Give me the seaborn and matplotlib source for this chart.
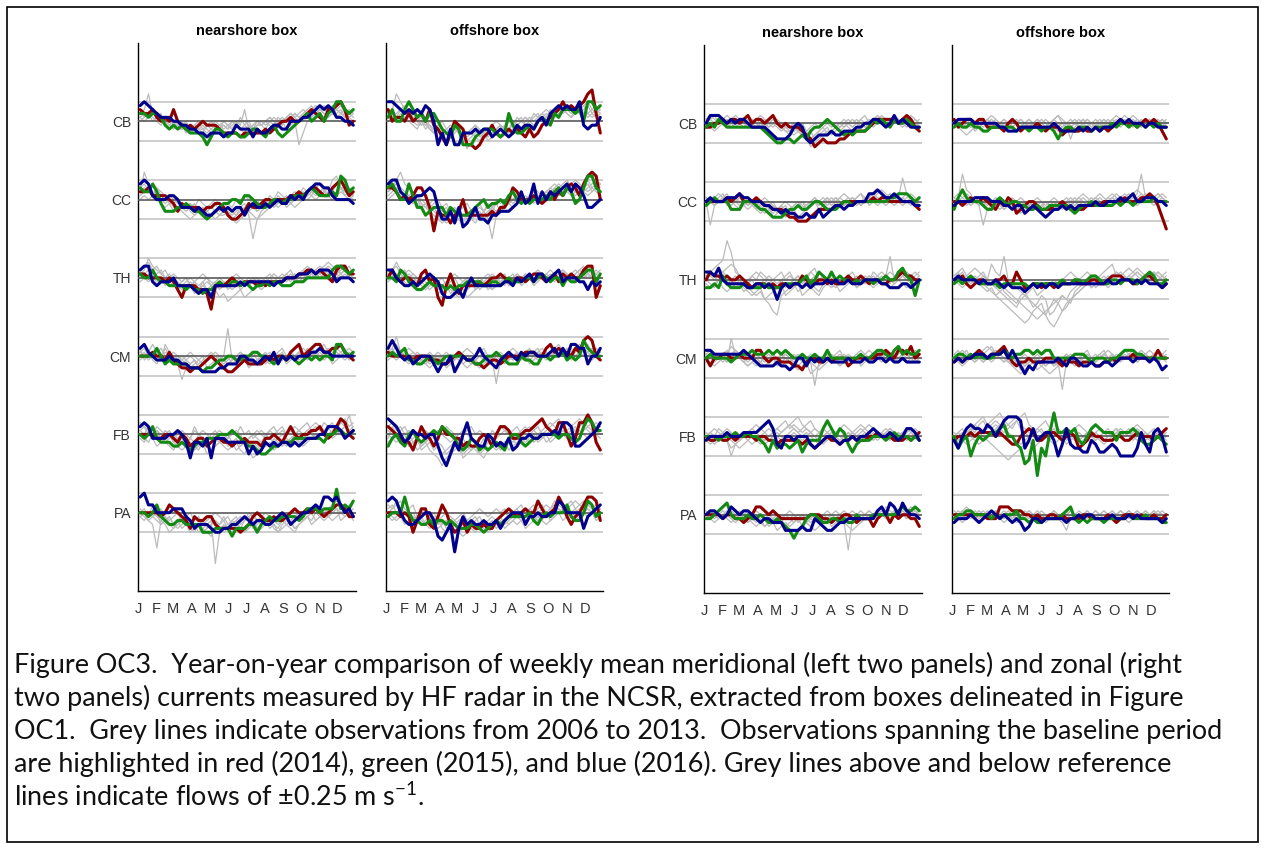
import numpy as np
import pandas as pd
import matplotlib
matplotlib.use("Agg")
import matplotlib.pyplot as plt
from matplotlib.patches import Rectangle
import seaborn as sns

# ---------------------------------------------------------------------------
# Sites (top to bottom), months, years
# ---------------------------------------------------------------------------
SITES = ["CB", "CC", "TH", "CM", "FB", "PA"]
SITE_OFFSET = {"CB": 6, "CC": 5, "TH": 4, "CM": 3, "FB": 2, "PA": 1}
MONTH_LABELS = ["J", "F", "M", "A", "M", "J", "J", "A", "S", "O", "N", "D"]
MONTH_START = [0, 31, 59, 90, 120, 151, 181, 212, 243, 273, 304, 334]
YEARS = ["2014", "2015", "2016"]
YEAR_COLORS = {"2014": "#8c0000", "2015": "#138a13", "2016": "#00008c"}
PANEL_TITLES = ["nearshore box", "offshore box", "nearshore box", "offshore box"]
REF_FLOW = 0.25

# Weekly mean currents, one letter per week (52 weeks):
# 'P' = 0 m/s, each letter step = 0.05 m/s  (A = -0.75 ... Z = +0.50)

# --- meridional, nearshore box ---
V_NEAR_2014 = {
    "CB": "SRRSQPQPSPONONOPOOONMMMMLMMMMMNMNOPPQPPQRSRQPSSTUSOP",
    "CC": "RRSQQQQPOMONNNNMNNOONLKKLMONNOPPOPPPQQRQRSSRQQSTUSQR",
    "TH": "QQPPPPOPOMKNNNMMLHNNNOPONOOONONOOOOPPPQQRRQRQPORSSQQ",
    "CM": "PPPQPPOQONMMLMMNOPONMLLMNONNNNOPOPPOQRSPQRSSQQRRSQPO",
    "FB": "PPPPOOPPONPOMNOOMNOONNMNNONNNMOOPONPRPOPPQQRPOPRTSPO",
    "PA": "PPPPPOPRQPONLONNOOMLLLLLKLMOPONNONNOPQPPQPQPOPQRRQOO",
}
V_NEAR_2015 = {
    "CB": "RRQRRQONONONMMMLJLNNMLMMLLMNNMLNOMLMNOPQRPQRPRSUUSRS",
    "CC": "SRRTROMMMNNONMMLKLMNOOPPOQQPONNOPPOPPQQQRSRQQQRQVURS",
    "TH": "QPPRPOONNNNMNMMLMMNONNOONONMNNONOONNNOOOPPPPPPRSSRQR",
    "CM": "PPPPRPNONNNNMMMLMMNOOPPOOPPQQPPONOPOPONOPOPOPPOSSQPQ",
    "FB": "POPRONNNMMNMLMNNOOOPPPQPONMMLKKLMMNNNOOOOOOONPPQQPPQ",
    "PA": "PPOPRONMMNNMMMMKKKLLLLJLLLMMKMNONNOOOONOQQQPQQQVQRQS",
}
V_NEAR_2016 = {
    "CB": "TUTSRQQQPPOONNMMLMMMLMMONNNLNMMNOONNPPPQQRSTSTSQQPPO",
    "CC": "TUTQPPPQQPNNNMNMLLMNMNMNNLNONNONOPOOQPQPRSTTSSQPPPPO",
    "TH": "RSSONOOOPNNNNMLMMKNNNNNNONOOOOOONOOPPPQQQRQRRRQOPPPO",
    "CM": "RSQPOOOPOONNMMMLLLLMMNNNPPOONOPOQNPOPOPPPQQRQQPPPPPP",
    "FB": "RSROOOOPPQPNJNNMOJOOONNNNNKMKLNMNMNNMNMNOOOPPRRRQOPQ",
    "PA": "TURRPPPPQQQONLMMMLKKLLMMNONMNNMMNOPOMNOPPQRQTTSTRPQO",
}
V_NEAR_PAST = {
    "CB": ["RSWRQPPQOPOPNOPNOOPONOPONOPNOPOPQPOQRQRSRSTSRQRSRQQR",
           "QRQSRQPOPONONMNONMNOONPOQONOPOPQPOPQPRQRSTRSSRTSRSRQ",
           "SQRPQROPPNOMNONMOPNOPONPOSNOPONPOQPNOPJMPQRSRQRSTRSR",
           "PQRQPOQPONNOMNOPONMNONOPNMONPOPONPQPQRQPQRSRQSRQRSQP",
           "QPQRQQPONOPNOONNMNONPONOPPONOOPQPPOQRQPQRQRSTSRRSQRS"],
    "CC": ["RWTRQPQOONNMNOMLMNMLMNMLNOMNMNOPNOPQOPQRQRSRQRUVSRQP",
           "QRSQRPOPNMNOMLMLKLMLLMKLMNLFKMNOPOPNOPQPQRQRSQRQSRSQ",
           "STRQSQPQPONNOMNMMNOMNMLMNMNOMNOPOQPOPQPQRSRQRSRTSQRS",
           "PQPQPONOMNMLKLMNMLKLMLKJKLMLKLMNONOPONOPPQPQRQPQRQPQ",
           "RSRTSRQPOPONONPONOPONONPOQPOPNOQPRQPQRQSRQSTRSQRSSRQ"],
    "TH": ["QRUSRQPOPONOPONOMNOMNONOPONOPNOPOPQPOQPQRQRSRQRQRSQP",
           "PQRQPOPNOMNMNLMNMLMKLJKLMKLMNMNONOPOPQPOPQPQRSRQPQPO",
           "RSTRSQRPQPOPNOPQPONONOPQPOPOPOPQPOPQRPQRSRQRSTSRQRQR",
           "OPQPOPNOPNMNONMOPNMNOMNOMNOPOPOPQPOPQPOPQPQPQRQPQPQP",
           "QPOPQRPQONOPNOMNONOPONMNONOPNOPONOPQPOPQPQRQPQRSQRSQ"],
    "CM": ["QRPQPOSQPONOPONOPQPOPWOPQPONOPOPQPOPQPQPQRQPQRQPQRPQ",
           "PQOPQRPOPNJMNOMNOPNONOPONOPQOPONOPQOPOPQPQPOPQRQPOPQ",
           "ROPQRPQPOPONMNOPMNOPOPNOPOPNOPQOPNOPQPOPRQPQPQPRQPQP",
           "OPQONPOQPOPONOMNOPONMNOPNOMNOPNOPOPNOPQPOPQPOPNOPQOP",
           "QPQSQPRPQPOPQPONOPQPONOPQPOPQPPQPQRPQPQRQPQRSQRQPQRQ"],
    "FB": ["QRPOQPNOPONMONPOMNONOPNOMNOPONPONOPONPQPQPOPQRSPQRUQ",
           "PONPQONMLNOMNLMNKLMNMLMNLKMNMLNMONMNOPNOPQOPQPOPQRPO",
           "SRQPRQPQOPQPORPQPOPQPOQPRPQOPQPQRPQPQRQPQRSRQPQRSTRS",
           "ONPOMNOPNMLMNMLNMLMNOMNLMNLJKLMNLMNMNONMNOPONOPQPOPO",
           "QPRQPOQPNOPNOQPONPQONOPQPNOPQPOQPQRPQPQRSQRQSRPQSRQR"],
    "PA": ["PQOPONMKLNOMNLMNLMNMOMNOMNOPNMNONMNONOPNOPQPOQRQPQPQ",
           "ONPOPMNOMNLMKLMKLMNLKLMNLKLMKLMNLKMNMLMNONPOPOPQPOPO",
           "QPORPQONOPNOPNOMNOPONOMNONPONOPONOPOPQPOPQRQPQRSRQRS",
           "PONMGNOMLMNMLKMLKJLMNLKMLNOLMNMNMLNMLKMNOMNONOPQNOPN",
           "OPNONMNOMLMNLMKLMNCKMLNMLKMNLMNLMKLMNLMNOPNOPONOPQOP"],
}

# --- meridional, offshore box ---
V_OFF_2014 = {
    "CB": "SPQQPRPQRPSONLJMPONJJIJLMOMLMNMNMLNLMOPQRSUSTSTUWXRM",
    "CC": "SSRPQPQSSQNHMLLJLMPLLLLLLMLNNPSRPPPQPOPRPRQSTSQTVWVP",
    "TH": "PRPOPPONQROPKINQNLNNNNONOPPQPOOPPOPQQPOPQOQPQPPRSSKN",
    "CM": "QPPPPPOPPPOOONNOPQPOONNMNOONOPPPPQQQPPRSQRQQPRQTUTPO",
    "FB": "RQPONNLORPOMORPPOOMNMMOPOMPRRQOOPQQRSTRQPSSPMOSSUSNL",
    "PA": "PPPOPOKNQQMLORPMKLNKMLLMLLNOPQPOPQPPSQOPQTROMOPRTTSN",
}
V_OFF_2015 = {
    "CB": "QSPPSUSQRPRRPNMLONJJJLMNNNMLMROMMNONPQPORQSSSRSPUUST",
    "CC": "STRPPTQNNLMNNNLNMLLLMNOPNOOPOQRPOPOPPPQPRSQSROPSVVSR",
    "TH": "PPORQONMMNONNNMNMNNOOOONNOONOPOOOPPOPQPOPPNPOOPQRROQ",
    "CM": "PQPQROONNOPONOPPPPPOONNOPPQPONNNPOONNPPOPPQOPOPTRQPP",
    "FB": "MOPNMPQONOPQPRQPOMLMONLMLMNMLOPPNMNOOPPPPOPPONORTSQQ",
    "PA": "OPPPTPNNMMNMNNMNMLLLMMLKLMNMNOOOOOPNMOPOPPPRONNPSROP",
}
V_OFF_2016 = {
    "CB": "UUTSRSRSRTSPJMJNJJMMMNMNNLMNMLMONOONPQORSTSTSSUONOOQ",
    "CC": "TUURQOPQQRSRNKKMJNIJLNKKJLLMMMNOROPTORPRQRSTRTSQNNOP",
    "TH": "RRPONNONOPQPOLKKLMKNPNNNNNNNOONPOPQOQQOPQROPPPOOMONO",
    "CM": "RTRPOPNOPPPNLNNPLNPOOPRPONMOPQPOQPQQPPPQRPRPSSRRNPPR",
    "FB": "TSRPNOQPPOPPMJHKNLPSONMMPOMNMOLMOOPOOPPPQPSSRMMNOPQS",
    "PA": "STSPNMMNOPPNJIKMFLOMNMMNMMNLNOPPPMOOPOOPPSRPPPPLOPQR",
}
V_OFF_PAST = {
    "CB": ["QSWUSQRPQOPONMNONMLKLMNMLMNONMNOPONOPQPRQRSRQSRQRSRQ",
           "RQRSTRQPOPNMONMLKJLMNOLMKLMNOMNOPQPOPQRQRSTSRSTRQRSR",
           "PQPRQPONPONMNLMNOMLIKLMNMLNOMNOPQOPQRPQSRQSTSRSTUSTS",
           "QRPQRSQPOPONOPNMNONMNONMNOPONPOQPQPRQRSRQRSRQRSTRQRS",
           "SRQSRQPOPNOMNLKLMNMLMLKMNMNOMNPONPQPQRQRSTRSTSRSTRQR"],
    "CC": ["RSUWTSRQPONMLKLMNMLKLMKLMNOMNOPQOPQRPQRSRSTUSRSTUSRQ",
           "QRSRQPOPNOMLKJKLJKIJKLMKLNMNOPOPQPQRQPQRSTSRQRSRQRST",
           "STRQPQRPONOPNMNLMNOMLMNMONPOPQPQRPQSRQRSTSRSTUTSRSTS",
           "PQRQPOPQONMNLKJKLMKJKJLMKFLMNONOPQPOPQRQRQRSRQRSTRSR",
           "RSTSRQPONONOPNOMLMNOMNOMNMOPNOPQPOQRPQRQSRSTSRQRSTUT"],
    "TH": ["QRSQPQPOPONOMNONMLKNOMNONMNOPOPQPOPQPQPQPQRQPQRQPQRQ",
           "PQOPQRQPONMNOMNLMNMKLMNOMNONOPOPOQPOPQPOPQPQPOPQRQPQ",
           "RQPQRPONOPQPONOPQPOPONOPQPOPQOPQPOPQRQPOPQRQPQRSQPQR",
           "OPQPONOPNMNOLMNMLKLMNOMNOMNOPNOPNOPNOPQPOPQPOPQPQPOP",
           "QRTRQPQPOPONOPNOPNOPNOPOPQPONPQOPQPOQPQRQRQPQRQPQRQP"],
    "CM": ["QRPQPOPQPONOPONOPQPOPONOPOIOPOPQPOPQRPQPQRQPQRSQPQRQ",
           "PQSQPOPNOPOPNOMNOPNONOPQOPQPOPOPQPQPOPQPPQPQRPQPQRQP",
           "RPOPQRQPONOPQPNOPONMNOPONOPONOPQOPNOPQPOQPQROPQRQPQR",
           "OPQPONOPONMNOPONMNOPONMNOPNOPQOPQPOPQPOPQRPQPQRQPOPQ",
           "QRUQRPQPOPQPOPQPOPQRQPQRPOPQPQRQPQRPQRQPRSQRQPQRSQRQ"],
    "FB": ["RSQRPQPOPNOPQPONOPQPONOPONOPQPOPQRPQRPQRSTRQRSTSRQRS",
           "PONOPMNOLMNLMKLMNLKLMLKLNMLMNLMNONOPNOPQPQPOPQPRQPQP",
           "QPONMNOPMNLKJHJKLMJKLMKJLMNLMNOMNOPNOPNOPQRPQRPQRSQR",
           "ORPQRPNOPQPOQPRQPOPQRPQPOQPRQPQRPQRQPQRSRQRSRQRSTRSR",
           "NOPNOMNLMNOMNMKLMNOMLNMOLMNMNONOPONOPOPNOPQPOPQPOQPO"],
    "PA": ["QRPQPOPNOMNOMNLMNMOLMNOMNONOPOPQOPQPQRPQRQPQRSRQRQPQ",
           "PQRSQPONOPMNOMNLMKLMNMLKMNLMNMNONOPONOPNOPQPOPQRQPQP",
           "ONOPNMNONMLMNLKLMKJKLKMLKLMNLMNMNLMNONMNOPNOPNOPOPNO",
           "RQSQPQROPQOPNOPONOPNOPQPOPQPQOPQRPQRPQRQSRQRSQRSRQRQ",
           "PONOMNONMNOMLMNLMNOMNOMNMLNOMNOPONOPONPOPQPOPQOPQPOP"],
}

# --- zonal, nearshore box ---
U_NEAR_2014 = {
    "CB": "OOPPQPQQPQRPQQPQRPOPOOONMLJKLKKKLLMNNNNOPQQQQQPQRQON",
    "CC": "PPPPPQPQRPPPQPOONNNMLLKKKLMNNNNOOPPPPPPPQPQQPPPPPPON",
    "TH": "PRQQPQPPQPONOOONONOONOOQPOOPPOPOOPQPPQPOPPOOPPQRQQPP",
    "CM": "PNPPQQPPQPPPRRPOPPOOONNMOPPOOPOPPPNOPPPPPQQRQPRRQSPQ",
    "FB": "POOPOOPOPPPPOPPOONOOOOONONMNOPOONOOPOOOPPQPPPOOOPOPQ",
    "PA": "PPPPOPPOONOPRRQPQPOOOOOOOPPPOONOOPPONOOOMOPPNPOPPOOM",
}
U_NEAR_2015 = {
    "CB": "OPOQPOOOOOOOOONMLKKLLKLMLNOOPQPONMNMNNNOQPQPOQPPQPOO",
    "CC": "OPQPPPNNNPPPONNMLLLMNNONNOPPONNNOPPOPPPPPPPPQQRRRQPQ",
    "TH": "NNONQONNNONNNNONNNNOOOOPQOPRQPRPQPPOPOPPOPPQPPRSQPLP",
    "CM": "PQPPPPOPQQQRQQQRQRQRQPPQPPQPPRPPPPPPPQPPQRRQPRSQRQQR",
    "FB": "PPPOPPPQPPQPPONLOMNNMNOLNOOORTRPRQNLNOOOPPPOPQPPPOPO",
    "PA": "OOPQRSPOOOPOOPONNONMLJLMOPPONNOONONNPOOOPPPPPPQRQQRQ",
}
U_NEAR_2016 = {
    "CB": "PRRRQPQPQQPOOOONMLLLMOPOLKLMMMNMMNNNOOPPQQPOPRPQPOOO",
    "CC": "PQPPPQQQRQQPPPOONNMNMMLLMLLNLMNOONOOPPPRRSRQQRQPPPOO",
    "TH": "RRQSPOOOOONNOONONKNONOONONOOOPOPOOPOOOPPPPOONNNOONOP",
    "CM": "RRQQQQQQQRQPONNNNONNMNPPNPOPOPOOOOPOOOPOOPPOPOOPOOOO",
    "FB": "OPPPPQPPPQQQQRSTRNMPPOPPPNMNOPPONOOPOPPQRQPPQPOPRRQO",
    "PA": "PQQPOPRQPQQPONOONNNLLLLMLLONMLLMNNOOOOOOOQRPSRPSQPPO",
}
U_NEAR_PAST = {
    "CB": ["PQPQPOPQPOPQPOPOPQPOOPNMNLMNOPOPOPQPQPOPQPQPOPQPQPOP",
           "QRQPQRQPQPQPQRQPOPONNONMLJKLMNNOPOPQPOPQPQRQPQPQRQPQ",
           "OPOPQPOPQPOPQPOPQPONMNOPMLMNOMNONOPOPQPOPQPOPQPOPQPO",
           "PQRPQPQRQPQPOPQPQPOPONOPNOPOPQPOPQPOPQRPQRQPQRQPQRQP",
           "PONOPQPOPOPQPOPOPONONMNOMNLMNOMNOPONOPOPOPQPOPQPOPQP"],
    "CC": ["PJOPQPQPOPOPNOPNMNOMNOPONOPOPQPQPOPQPOPQPQPQRPQVRQPQ",
           "QPQRQPOPQPOPONMNOMNLMNOPNOPOPQOPQPOPQRPQRQPQRQPQRQPO",
           "OPOPQOPONOPONMNOLMNOMNLMNOPNOPOPOPQPOPQOPQPOPQPOPQPO",
           "PQPQRPQPQPQPOPQPONOPONOPOPQPQPQPQRQPQRQPQRSRQRQPQRQP",
           "QPOPQRPQPONOPONOPNOMNOPNOPQOPOPQPOPQPOPQPOPQPOPQPOPQ"],
    "TH": ["QRSTUZWRQPOPNOPQPOPNOPQPOPQPOPQPOPQPOPQPRQPQRQPQRQPQ",
           "PONPQOPNOMNMLMKJHGLMNOMNOPNMOPONOPQPNOPQPOPQPOPQPOPO",
           "QRQSRQPQPOPQRQPOPQRPQPOPQRSPQPOPQPQRPOPQPQRQVPQRQPQR",
           "ONOPNMNOPNMLMNKLMNOLMNOLMNMLNONOMNOPNOPONOPONOPONOPO",
           "RQPQRSTSQPOQPRQPONPQRPQOPRQPOPQPOPQPQPOPQPQPOQPQPQRQ"],
    "CM": ["PQPQPOUQPOPQPOPQPOPQPOPQPOIOPQPOPQPOPQPOPQPQPOPQRQPQ",
           "QPOPQRPQPONOPONOPONOPONOPONMNOPONOPOPQPOPQRQPQPQPQRQ",
           "OPQPOPQRQPQRQPQRQPQPOPQPOPQPOPQPQPOPQPQRQPQRQPQRQPQP",
           "PONOPOPQPONONOPOPNOPONMNOLMNOPOPNOPOPNOPOPOPQPOPOPOP",
           "QRPQPQSRQPOPQPOPQRPQPQPOPQPOPQPQRPQPQRQPQRQPQRSQRQPQ"],
    "FB": ["PQRQPOKNOPQPOPQRQPQRSTUSRQRQPQPQRPQPQRQPQPQRQPQPQRQP",
           "QPOPQRQPOPQRSRQPQRSTRSRQRQPQRQPQRQPQRSRQRQPQRQPQRQPQ",
           "ONOPQPONMNOPONOPQPOPQRQPQPONOPQPOPQPOPQPOPQPOPQPOPQP",
           "PQPRQPQPOPQRQPOPQRQRSRQRSTRQPQRQRSRQPQRSRQPQRQPQPQRQ",
           "PONOPOMNOPONOPNOPQPOPQPOPQPONOPQPOPQPOPQPOPQPOPQPOPO"],
    "PA": ["PQPOPQPOPONONOMNONOPOPNOPONOPONOPNGOPQPOPQPOPQPQPQPO",
           "OPQPOPONOPONMNOMNLMNMNOMNMLMNOMNONMLMNOPOPQPOPQPOPQP",
           "QPOPQPOPQPOPQPONOPOPQPOPNOPOPQPOPQPOPOPQPQRQPQPQPQPQ",
           "PONOPONOPONOPNMNONOMNOPONMNONOPONOPOPNOPOPQPOPQPOQPO",
           "OPQPOPQPOPQPOPOPONOPONOPONOPNOPQPOPQPOPQPQPRQPQPQRQP"],
}

# --- zonal, offshore box ---
U_OFF_2014 = {
    "CB": "QOPQQPQQOOOONPQPNOOOPONOOOMNONNONNONONOPQPPPOPQPQPNL",
    "CC": "PPOPQPPQPONPOQPMNOPPONNNOOPONNNNOOOOPPPPPQPPPQQRQOLI",
    "TH": "PPQONOPPOOPPQOORPNNOONOONOOOOPOOOPPOOPQQQPPOOPQQPONO",
    "CM": "OPOPPQRQPQQRSQONOOPOOOPPPONPOONOOONNOOPOPPPQPPPPPRPP",
    "FB": "OPPPQPQQQQPQPONNPQRQOOPQQPOPQPMNOQPPOOOPPOOPQPPPOPQR",
    "PA": "PPPPPPPPOOORRRQQQPPOPOOPPOPOOOOPPOOOOPONOPPPOPOOPOOP",
}
U_OFF_2015 = {
    "CB": "OPOOPOONNOOOOOONOONOONOONLNOONOOONOOOOPOPPOPOPOPOPOO",
    "CC": "NQSQPPPONNPQPOPPOONNONNOOOOONMNOOPOOOOOPOPPOPPPPQPPP",
    "TH": "OPOPQPOOOOONOOOOOONOOOOOOOPOOPPOPQQPOOPPOPPPOPQRQOOP",
    "CM": "PQQPQPQPPPQQRQPQQRRQRQRRPPPPPQQQPOPPPOPPQRRRQQPPPPPP",
    "FB": "PMOPKNPOPQQRSPPNMIJOFMKQVQQRQRONPRSRQQQOQQQRQONNOPON",
    "PA": "OPPQQPPPPOPOPPPQOONONNOOOOPQRONONOOONOOOOOPOOOPOOONN",
}
U_OFF_2016 = {
    "CB": "PQQQQPPPPPPOONNNOOOOOOOOPONNNNONONONOOOPQPQPPPOPPOOO",
    "CC": "OPPPPQQQQPPPOONOOMNONMLMNNONONOOOOPOOPPPQPQRPPQQQPPO",
    "TH": "PQPPPPOPOOPONONNNMNONONOONOOOOOOOOOOOPOOPPPOPOPOOONO",
    "CM": "OPOPPQQQPQQQRPRPNLNMOOOOOPONPPONNONNOONOPPPOPPPOPOMN",
    "FB": "OMPRSRRQSRPRTUUUTMOROPQQOKNRNMMLLONLLMNMKKKKMQNLQRPL",
    "PA": "NOOOPONOPQPOPONONLMOONOOOOONOOPOPPOOOOPOOOPOPOOOOONO",
}
U_OFF_PAST = {
    "CB": ["PQPOPNOPQPOPQPOPQPOPQPOPQRPOPQPQPOPQPOPQPQPQPOPQPQPQ",
           "OPQPOPQPOPQPOPQPOPOPONOPONOPOPOPOPQPOPQPOPQPOPQPOPQP",
           "QPOPQPOPQRQPQPOPQPQPOPQPQRQPOPQPQPOPQPQRQPQRQPQPOPQP",
           "PONMNOPOPQPOPOPQPOPOPQPOPOPOLOPQPOPOPQPOPQPOPQPQPOPO",
           "QPQPOPQPQPOPOPQPOPQPQPOPQPOPQPOPQPOPQPQPQRQPQPOPQPOP"],
    "CC": ["PQWSRPQPOPOPNOPONOPONOPONOPQPOPQPOPQPQPQPQPQRWQPQRQP",
           "QPQRQPOJNOPONOPNOPONOPNOPNOPOPQPOPQPOPQPQRQPQRQPQPPO",
           "OPOPQPOPQPONOPONMNOPNONOPONOPQPOPQPOPQRQPQRQPQRQPQRQ",
           "PQPOPQPOPOPQPONOPOPONOPONOPNOPOPOPQPOPQPOPQPOPQPOPQP",
           "QRQPOPQPQPQPOPQPQPOPQPOPQPOPQPQRQPQRQPQRQPQRSRQPQRQP"],
    "TH": ["QRSQPOPQPTRQVPONMLKJIHGIKJHIKLMNOPQPOPQRQPQRSRQPQRQP",
           "PQRPQPONMNLKJIHGFEFHIJGEDFHJKLMNOPNOPQPOPQPQRQPQRQPO",
           "OPQPOPQRPONOMLKJLMKIJLKGHJLKMNOPONOPQPQRQRSRQPQPQRQR",
           "QRPQRSRQPONMLKJIKLMNLMNOPOPQRQPQRQPQRSTQRQPQRQPQRQPQ",
           "PONOPQPONMLMNMLKJIHGFGHIJKLKJMNOPNOPONOPOPQPOPQPOPQP"],
    "CM": ["QRPQPOPQPOPQRQPOPQPOPONOPOHOPOPQPOPQRPQPQRQPQRQPQRQP",
           "PQRQPOPQRSQPOPNOMNOPONMLMNOPONOPQPOPQPOPQPQPOPQRQPQP",
           "OPQRPQPOPQRQPONMLMNOMNOPONOPQPOPQPOPQPQPOPQPOPQPQRPO",
           "QPOPQPQRSRQPOPQPONOPQPOPNOPQPOPQRPQPQRQPQPQRQPQPQRQR",
           "PONOPQPOPQRQPOPONMNOPONONOPQPOPONOPQPOPQPQPOPQPOPOPQ"],
    "FB": ["PQRPQSRQSTUVTSRTUVSRQRPQRPQRQPOPQPOPQRPQRQPQRQPQRQPQ",
           "OPQPRQSTRSTSRSTUSRQPOPQRQPOPQPQPOPQPOPQPQPQPOPQPOPQP",
           "QPONOPQPONMLKJKLMNOMNOPONOPNOPOPQPOPQPQRPQRPQPOPQPOP",
           "PQPQRSTUSRSRQRSTRQPQRSTRQRQPQRSRQPQRQPQRQPQRSRQPQRQP",
           "POPQPONOPQRSRQPONOPQRQPOPQPOPONOPQPONOPQPQPOPQPOPQPO"],
    "PA": ["PQPOPQPOPQPOPQPOPQPOPQPOPONLOPOPQPOPQPOPQPOPQPOPQPOP",
           "OPQPOPQPQPOPOPQPOPQPOPOPQPOPQPQPOPQPOPQPOPQPOPQPOPQP",
           "QPQRQPQPOPQPQPOPQPOPQPOPQPOPQPOPQPOPQPQPQPQPOPQPQPOP",
           "PONOPOPQPOPONOPOPONOPONOPONOPONOPOPONOPOPONOPOPOPQPO",
           "OPQPQPOPOPQPOPONOPQPOPOPQPOPQPOPOPQPOPOPQPOPQPOPQPOP"],
}

PANELS = [
    (V_NEAR_2014, V_NEAR_2015, V_NEAR_2016, V_NEAR_PAST),
    (V_OFF_2014, V_OFF_2015, V_OFF_2016, V_OFF_PAST),
    (U_NEAR_2014, U_NEAR_2015, U_NEAR_2016, U_NEAR_PAST),
    (U_OFF_2014, U_OFF_2015, U_OFF_2016, U_OFF_PAST),
]

CAPTION = [
    "Figure OC3.  Year-on-year comparison of weekly mean meridional (left two panels) and zonal (right",
    "two panels) currents measured by HF radar in the NCSR, extracted from boxes delineated in Figure",
    "OC1.  Grey lines indicate observations from 2006 to 2013.  Observations spanning the baseline period",
    "are highlighted in red (2014), green (2015), and blue (2016). Grey lines above and below reference",
    "lines indicate flows of \u00b10.25 m s$^{\\mathregular{-1}}$.",
]
CAPTION_FONT = ["Lato", "DejaVu Sans"]


def decode(code):
    """Weekly letters -> current speed in m/s."""
    return np.array([(ord(c) - ord("P")) * 0.05 for c in code])


def to_frame(site, code, label, unit):
    v = decode(code)
    day = np.arange(len(v)) * 7.0 + 3.5
    return pd.DataFrame({"day": day, "y": SITE_OFFSET[site] + v,
                         "series": label, "unit": unit})


# ---------------------------------------------------------------------------
# Figure
# ---------------------------------------------------------------------------
sns.set_theme(style="white")
plt.rcParams["font.family"] = ["Liberation Sans", "DejaVu Sans"]

W, H = 1265, 848
fig = plt.figure(figsize=(W / 100, H / 100), dpi=100, facecolor="white")

# axes boxes in pixels: (left, top, right, bottom)
AX_PX = [(138, 43, 356, 591), (386, 43, 603, 591),
         (704, 45, 922, 593), (952, 45, 1169, 593)]

for k, (box, (d14, d15, d16, past)) in enumerate(zip(AX_PX, PANELS)):
    l, t, r, b = box
    ax = fig.add_axes([l / W, 1 - b / H, (r - l) / W, (b - t) / H])

    # reference lines: +/-0.25 m/s around each site baseline
    for site in SITES:
        off = SITE_OFFSET[site]
        ax.axhline(off + REF_FLOW, color="#c9c9c9", lw=1.3, zorder=1)
        ax.axhline(off - REF_FLOW, color="#c9c9c9", lw=1.3, zorder=1)

    # past years (grey)
    grey = pd.concat([to_frame(site, code, "past", f"{site}{i}")
                      for site in SITES for i, code in enumerate(past[site])],
                     ignore_index=True)
    sns.lineplot(data=grey, x="day", y="y", units="unit", estimator=None,
                 color="#bbbbbb", lw=0.9, sort=False, legend=False,
                 ax=ax, zorder=2)

    for site in SITES:
        ax.axhline(SITE_OFFSET[site], color="#5a5a5a", lw=1.2, zorder=3)

    # highlighted years
    recent = pd.concat([to_frame(site, d[site], yr, site)
                        for yr, d in zip(YEARS, (d14, d15, d16))
                        for site in SITES], ignore_index=True)
    sns.lineplot(data=recent, x="day", y="y", hue="series", units="unit",
                 estimator=None, palette=YEAR_COLORS, hue_order=YEARS,
                 lw=2.2, sort=False, legend=False, ax=ax, zorder=4)

    ax.set_xlim(0, 365)
    ax.set_ylim(0, 7)
    ax.set_xlabel("")
    ax.set_ylabel("")
    for s in ("top", "right"):
        ax.spines[s].set_visible(False)
    for s in ("left", "bottom"):
        ax.spines[s].set_color("black")
        ax.spines[s].set_linewidth(1.0)

    ax.set_xticks(MONTH_START)
    ax.set_xticklabels(MONTH_LABELS)
    ax.tick_params(axis="x", direction="in", length=5, width=0.9,
                   color="black", pad=8, labelsize=10.5, labelcolor="#333333")

    if k in (0, 2):
        ax.set_yticks([SITE_OFFSET[s] for s in SITES])
        ax.set_yticklabels(SITES)
        ax.tick_params(axis="y", length=0, pad=5, labelsize=10,
                       labelcolor="#333333")
    elif k == 1:
        ax.set_yticks([7])
        ax.set_yticklabels([""])
        ax.tick_params(axis="y", direction="in", length=4, width=0.9)
    else:
        ax.set_yticks([])

    ax.set_title(PANEL_TITLES[k], fontsize=10.5, fontweight="bold",
                 color="black", pad=6)

# caption, sized so that its widest line fills the text block
renderer = fig.canvas.get_renderer()
widest = 0.0
for line in CAPTION:
    probe = fig.text(0, 0, line, fontsize=20, family=CAPTION_FONT)
    widest = max(widest, probe.get_window_extent(renderer).width)
    probe.remove()
cap_size = 20 * 1215 / widest
for i, line in enumerate(CAPTION):
    fig.text(14 / W, 1 - (665 + 33 * i) / H, line, ha="left", va="center",
             fontsize=cap_size, family=CAPTION_FONT, color="#111111")

# outer frame
fig.patches.append(Rectangle((7 / W, 6 / H), 1251 / W, 835 / H,
                             transform=fig.transFigure, fill=False,
                             edgecolor="black", lw=1.2))

fig.savefig("out.png", dpi=100, facecolor="white")
